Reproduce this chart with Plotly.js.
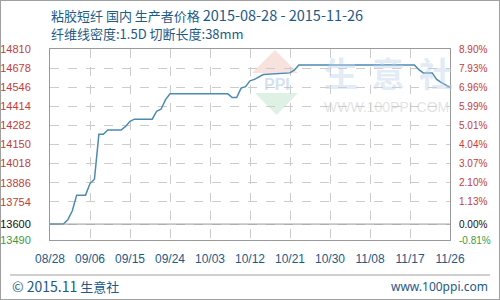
<!DOCTYPE html>
<html>
<head>
<meta charset="utf-8">
<script src="https://cdn.plot.ly/plotly-3.0.1.min.js"></script>
<style>
  html, body { margin: 0; padding: 0; background: #fff; }
  #wrap { position: relative; width: 500px; height: 300px; }
  #chart { width: 500px; height: 300px; }
  #frame { position: absolute; left: 0; top: 0; width: 500px; height: 300px; box-sizing: border-box; border: 1px solid #a0a0a0; pointer-events: none; }
</style>
</head>
<body>
<div id="wrap"><div id="chart"></div><div id="frame"></div></div>
<script>
// ---- data ----
const dates = ['2015-08-28','2015-08-31','2015-09-01','2015-09-02','2015-09-03','2015-09-05','2015-09-06','2015-09-07','2015-09-08','2015-09-09','2015-09-10','2015-09-13','2015-09-14','2015-09-15','2015-09-16','2015-09-20','2015-09-21','2015-09-22','2015-09-23','2015-09-24','2015-10-07','2015-10-08','2015-10-09','2015-10-10','2015-10-11','2015-10-12','2015-10-13','2015-10-15','2015-10-21','2015-10-22','2015-10-23','2015-11-18','2015-11-19','2015-11-20','2015-11-22','2015-11-23','2015-11-24','2015-11-25','2015-11-26'];
const prices = [13600,13600,13630,13690,13800,13800,13880,13910,14220,14220,14250,14250,14275,14310,14325,14325,14380,14395,14460,14500,14500,14475,14475,14540,14550,14590,14600,14633,14645,14665,14700,14700,14667,14645,14645,14600,14580,14565,14545];
const basePrice = 13600;
const xTickVals = ['2015-08-28','2015-09-06','2015-09-15','2015-09-24','2015-10-03','2015-10-12','2015-10-21','2015-10-30','2015-11-08','2015-11-17','2015-11-26'];
const xTickText = ['08/28','09/06','09/15','09/24','10/03','10/12','10/21','10/30','11/08','11/17','11/26'];
const yTickVals = [13490,13600,13754,13886,14018,14150,14282,14414,14546,14678,14810];
const pctTickText = ['-0.81%','0.00%','1.13%','2.10%','3.07%','4.04%','5.01%','5.99%','6.96%','7.93%','8.90%'];
const titleProduct = '粘胶短纤 国内 生产者价格';
const titleDates = '2015-08-28 - 2015-11-26';
const titleLine2 = '纤维线密度:1.5D 切断长度:38mm';
const footerYear = '© 2015.11', footerName = '生意社';
const footerRight = 'www.100ppi.com';

// ---- styling ----
const RED = '#c43c3c', GREEN = '#3f9a3f', BLACK = '#111111', BLUE = '#1e5a87';
function tickColor(v) { return v < basePrice ? GREEN : (v === basePrice ? BLACK : RED); }
const leftText = yTickVals.map(v => '<span style="color:' + tickColor(v) + '">' + v + '</span>');
const rightText = yTickVals.map((v, i) => '<span style="color:' + tickColor(v) + '">' + pctTickText[i] + '</span>');
const pct = v => (v - basePrice) / basePrice * 100;

// pixel -> paper helpers (plot area: x 50..450, y 49..240)
const PX = px => (px - 50) / 400;
const PY = py => (240 - py) / 191;

const traces = [
  { x: dates, y: prices, type: 'scatter', mode: 'lines', line: { color: '#4b8bb2', width: 1.5 }, hoverinfo: 'skip', showlegend: false },
  { x: [dates[0]], y: [0], yaxis: 'y2', type: 'scatter', mode: 'markers', marker: { opacity: 0 }, hoverinfo: 'skip', showlegend: false }
];

const CJK = 'Noto Sans CJK SC, Noto Sans, sans-serif';
const layout = {
  width: 500, height: 300,
  margin: { l: 50, r: 50, t: 49, b: 60, pad: 0 },
  paper_bgcolor: '#ffffff', plot_bgcolor: '#ffffff',
  showlegend: false,
  font: { family: 'Liberation Sans, Arial, sans-serif', size: 11 },
  xaxis: {
    type: 'date', range: ['2015-08-28', '2015-11-26'],
    tickmode: 'array', tickvals: xTickVals, ticktext: xTickText,
    tickfont: { color: BLUE, size: 12, family: 'Liberation Sans, Arial, sans-serif' },
    ticks: 'outside', ticklen: 8, tickcolor: 'rgba(0,0,0,0)',
    showgrid: true, gridcolor: '#cccccc', griddash: 'dash', gridwidth: 1,
    showline: true, linecolor: '#999999', linewidth: 1, mirror: true,
    zeroline: false, fixedrange: true
  },
  yaxis: {
    range: [13490, 14810],
    tickmode: 'array', tickvals: yTickVals, ticktext: leftText,
    tickfont: { size: 11, family: 'Liberation Sans, Arial, sans-serif' },
    ticks: 'outside', ticklen: 16, tickcolor: 'rgba(0,0,0,0)',
    showgrid: true, gridcolor: '#cccccc', griddash: 'dash', gridwidth: 1,
    showline: true, linecolor: '#999999', linewidth: 1, mirror: true,
    zeroline: false, fixedrange: true
  },
  yaxis2: {
    overlaying: 'y', side: 'right',
    range: [pct(13490), pct(14810)],
    tickmode: 'array', tickvals: yTickVals.map(pct), ticktext: rightText,
    tickfont: { size: 10, family: 'Liberation Sans, Arial, sans-serif' },
    ticks: 'outside', ticklen: 6, tickcolor: 'rgba(0,0,0,0)',
    showgrid: false, zeroline: false, showline: false, fixedrange: true
  },
  shapes: [
    { type: 'line', xref: 'paper', yref: 'y', x0: 0, x1: 1, y0: basePrice, y1: basePrice, line: { color: '#999999', width: 1 } },
    { type: 'path', xref: 'paper', yref: 'paper', layer: 'below',
      path: 'M ' + PX(275) + ' ' + PY(50) + ' L ' + PX(298) + ' ' + PY(73) + ' L ' + PX(252) + ' ' + PY(73) + ' Z',
      fillcolor: 'rgba(240,190,180,0.45)', line: { width: 0 } },
    { type: 'path', xref: 'paper', yref: 'paper', layer: 'below',
      path: 'M ' + PX(255) + ' ' + PY(93) + ' L ' + PX(298) + ' ' + PY(93) + ' L ' + PX(276.5) + ' ' + PY(115) + ' Z',
      fillcolor: 'rgba(185,225,195,0.45)', line: { width: 0 } },
    { type: 'line', xref: 'paper', yref: 'paper', x0: PX(10), x1: PX(490), y0: PY(275), y1: PY(275), line: { color: '#a0a0a0', width: 1 } }
  ],
  annotations: [
    { xref: 'paper', yref: 'paper', x: PX(50), y: PY(15), xanchor: 'left', yanchor: 'middle', showarrow: false, borderpad: 0,
      text: titleProduct + ' <span style="font-size:14.5px">' + titleDates + '</span>', font: { family: CJK, size: 13, color: BLUE } },
    { xref: 'paper', yref: 'paper', x: PX(50), y: PY(33.5), xanchor: 'left', yanchor: 'middle', showarrow: false, borderpad: 0,
      text: titleLine2, font: { family: CJK, size: 13, color: BLUE } },
    { xref: 'paper', yref: 'paper', x: PX(10), y: PY(286), xanchor: 'left', yanchor: 'middle', showarrow: false,
      text: '<span style="font-size:14px">' + footerYear + '</span> ' + footerName, font: { family: CJK, size: 13, color: BLUE } },
    { xref: 'paper', yref: 'paper', x: PX(490), y: PY(286), xanchor: 'right', yanchor: 'middle', showarrow: false,
      text: footerRight, font: { family: 'Noto Sans, sans-serif', size: 12, color: BLUE } },
    { xref: 'paper', yref: 'paper', x: PX(277), y: PY(84), xanchor: 'center', yanchor: 'middle', showarrow: false,
      text: '<b>PPI</b>', font: { family: 'Liberation Sans, sans-serif', size: 16, color: 'rgba(170,195,230,0.5)' } },
    { xref: 'paper', yref: 'paper', x: PX(341), y: PY(72), xanchor: 'center', yanchor: 'middle', showarrow: false,
      text: '<b>生</b>', font: { family: CJK, size: 34, color: 'rgba(190,210,235,0.45)' } },
    { xref: 'paper', yref: 'paper', x: PX(388), y: PY(72), xanchor: 'center', yanchor: 'middle', showarrow: false,
      text: '<b>意</b>', font: { family: CJK, size: 34, color: 'rgba(190,210,235,0.45)' } },
    { xref: 'paper', yref: 'paper', x: PX(436), y: PY(72), xanchor: 'center', yanchor: 'middle', showarrow: false,
      text: '<b>社</b>', font: { family: CJK, size: 34, color: 'rgba(190,210,235,0.45)' } },
    { xref: 'paper', yref: 'paper', x: PX(386), y: PY(107), xanchor: 'center', yanchor: 'middle', showarrow: false,
      text: 'WWW.100PPI.COM', font: { family: 'Liberation Sans, sans-serif', size: 14, color: 'rgba(200,200,200,0.5)' } }
  ]
};

Plotly.newPlot('chart', traces, layout, { staticPlot: true, displayModeBar: false });
</script>
</body>
</html>
